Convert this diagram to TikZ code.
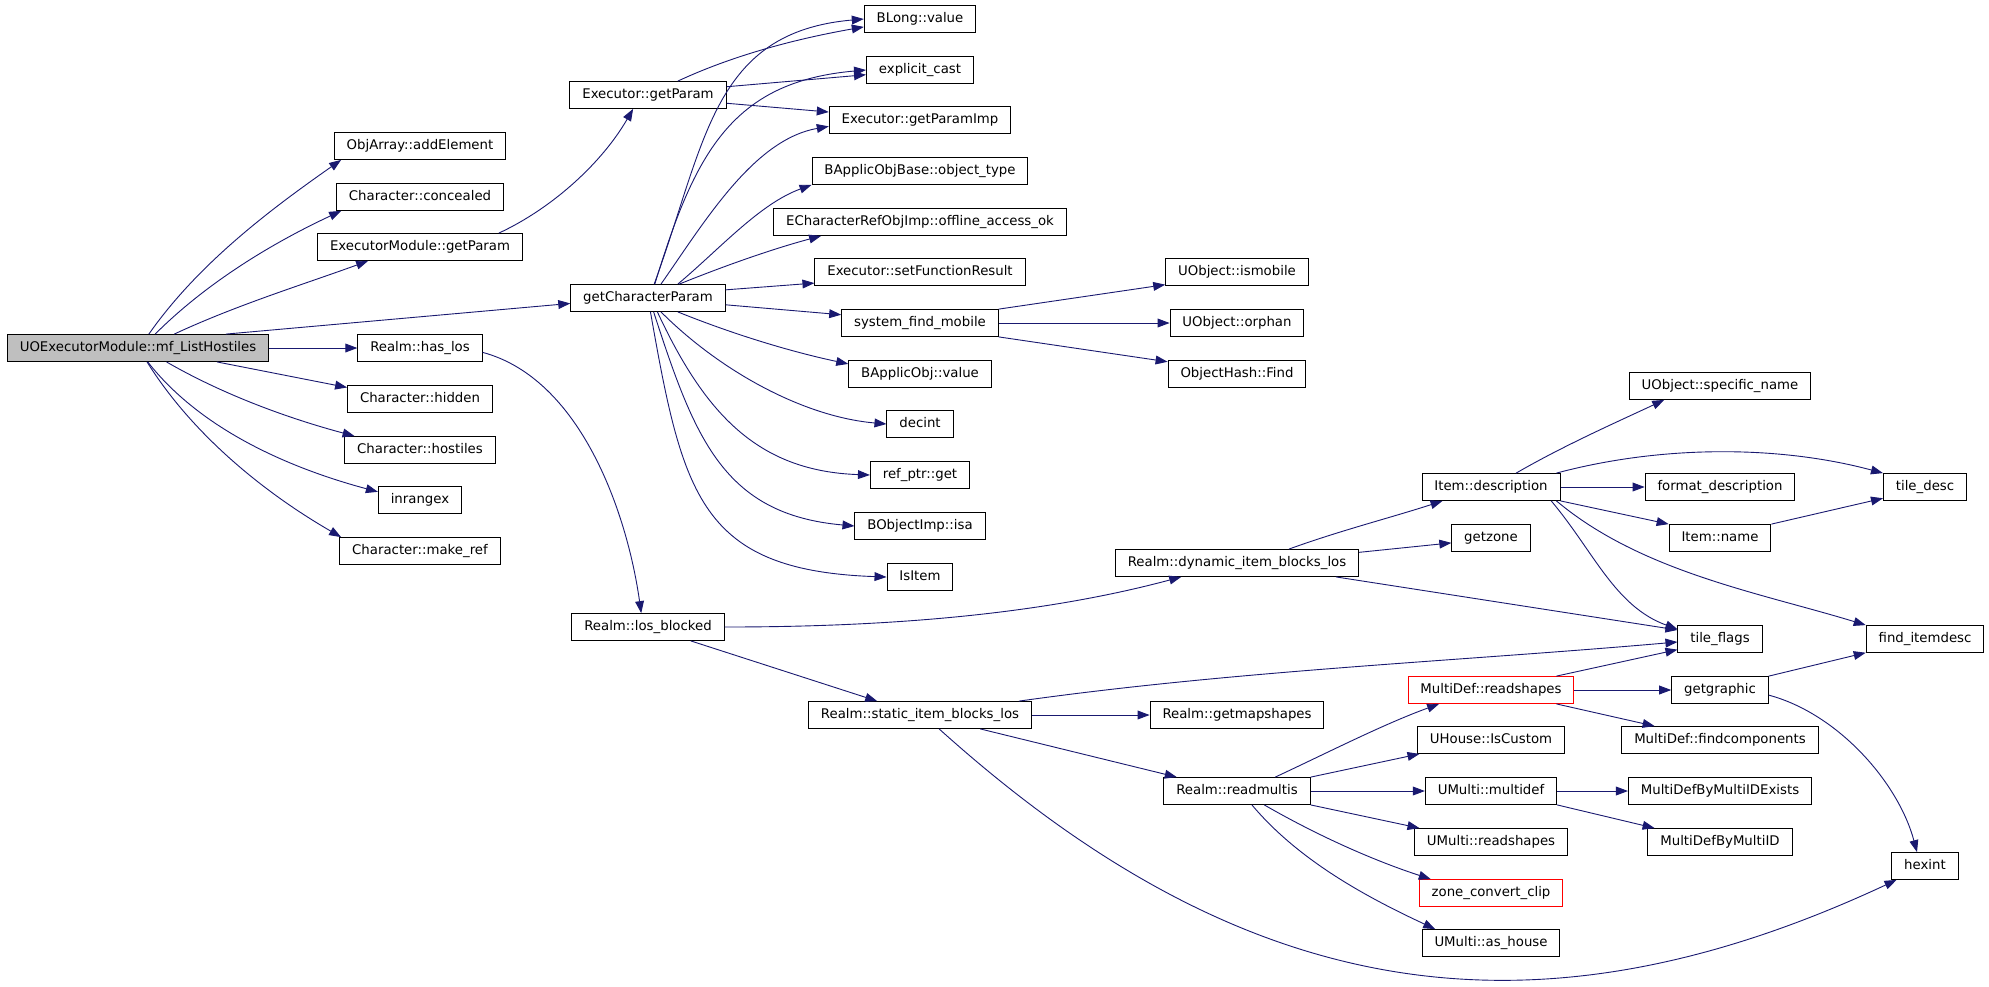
\documentclass[tikz,border=0pt]{standalone}
\usepackage{fontspec}
\setmainfont{DejaVu Sans}
\usepackage{tikz}
\usetikzlibrary{arrows.meta}

\definecolor{callblue}{HTML}{191970}
\definecolor{rootgray}{HTML}{BFBFBF}

\begin{document}
\begin{tikzpicture}[x=0.5pt,y=0.5pt,
	fn/.style={draw=black,line width=0.5pt,fill=white,minimum height=13.4pt,
		inner xsep=6.2pt,inner ysep=0pt,text height=5.1pt,text depth=1.5pt,
		font=\fontsize{6.65}{7}\selectfont},
	root/.style={fn,fill=rootgray},
	trunc/.style={fn,draw=red},
	call/.style={draw=callblue,line width=0.45pt,looseness=0.85,-{Triangle[length=6pt,width=4.4pt]}}]

% fix page to the graph size
\path[use as bounding box,fill=white] (0,0) rectangle (1989,-986);

% column positions (px)
\pgfmathsetmacro{\xa}{138}
\pgfmathsetmacro{\xb}{420}
\pgfmathsetmacro{\xc}{648}
\pgfmathsetmacro{\xd}{920}
\pgfmathsetmacro{\xe}{1237}
\pgfmathsetmacro{\xf}{1491}
\pgfmathsetmacro{\xg}{1720}
\pgfmathsetmacro{\xh}{1925}

% caller
\node[root] (main) at (\xa,-348) {UOExecutorModule::mf\_ListHostiles};

% first level
\node[fn] (addel) at (\xb,-146) {ObjArray::addElement};
\node[fn] (conc) at (\xb,-197) {Character::concealed};
\node[fn] (emgp) at (\xb,-247) {ExecutorModule::getParam};
\node[fn] (haslos) at (\xb,-348) {Realm::has\_los};
\node[fn] (hidden) at (\xb,-399) {Character::hidden};
\node[fn] (hostiles) at (\xb,-450) {Character::hostiles};
\node[fn] (inrange) at (\xb,-500) {inrangex};
\node[fn] (makeref) at (\xb,-551) {Character::make\_ref};

% second level
\node[fn] (exgp) at (\xc,-95) {Executor::getParam};
\node[fn] (gcp) at (\xc,-298) {getCharacterParam};
\node[fn] (losb) at (\xc,-627) {Realm::los\_blocked};

% third level
\node[fn] (blong) at (\xd,-19) {BLong::value};
\node[fn] (ecast) at (\xd,-70) {explicit\_cast};
\node[fn] (gpimp) at (\xd,-120) {Executor::getParamImp};
\node[fn] (otype) at (\xd,-171) {BApplicObjBase::object\_type};
\node[fn] (offl) at (\xd,-222) {ECharacterRefObjImp::offline\_access\_ok};
\node[fn] (setfr) at (\xd,-272) {Executor::setFunctionResult};
\node[fn] (sfm) at (\xd,-323) {system\_find\_mobile};
\node[fn] (bval) at (\xd,-374) {BApplicObj::value};
\node[fn] (decint) at (\xd,-424) {decint};
\node[fn] (refget) at (\xd,-475) {ref\_ptr::get};
\node[fn] (isa) at (\xd,-526) {BObjectImp::isa};
\node[fn] (isitem) at (\xd,-577) {IsItem};
\node[fn] (sibl) at (\xd,-715) {Realm::static\_item\_blocks\_los};

% fourth level
\node[fn] (ismob) at (\xe,-272) {UObject::ismobile};
\node[fn] (orphan) at (\xe,-323) {UObject::orphan};
\node[fn] (find) at (\xe,-374) {ObjectHash::Find};
\node[fn] (dibl) at (\xe,-563) {Realm::dynamic\_item\_blocks\_los};
\node[fn] (gms) at (\xe,-715) {Realm::getmapshapes};
\node[fn] (rmult) at (\xe,-791) {Realm::readmultis};

% fifth level
\node[fn] (idesc) at (\xf,-487) {Item::description};
\node[fn] (getzone) at (\xf,-538) {getzone};
\node[trunc] (mdrs) at (\xf,-690) {MultiDef::readshapes};
\node[fn] (iscust) at (\xf,-740) {UHouse::IsCustom};
\node[fn] (mdef) at (\xf,-791) {UMulti::multidef};
\node[fn] (umrs) at (\xf,-842) {UMulti::readshapes};
\node[trunc] (zcc) at (\xf,-893) {zone\_convert\_clip};
\node[fn] (ashouse) at (\xf,-943) {UMulti::as\_house};

% sixth level
\node[fn] (specn) at (\xg,-386) {UObject::specific\_name};
\node[fn] (fdesc) at (\xg,-487) {format\_description};
\node[fn] (iname) at (\xg,-538) {Item::name};
\node[fn] (tflags) at (\xg,-639) {tile\_flags};
\node[fn] (ggr) at (\xg,-690) {getgraphic};
\node[fn] (findc) at (\xg,-740) {MultiDef::findcomponents};
\node[fn] (mdbe) at (\xg,-791) {MultiDefByMultiIDExists};
\node[fn] (mdbi) at (\xg,-842) {MultiDefByMultiID};

% last level
\node[fn] (tdesc) at (\xh,-487) {tile\_desc};
\node[fn] (fitem) at (\xh,-639) {find\_itemdesc};
\node[fn] (hexint) at (\xh,-866) {hexint};

% calls from the root
\draw[call] (main.52) to[out=55,in=215] (addel.190);
\draw[call] (main.39) to[out=45,in=205] (conc.190);
\draw[call] (main.21) to[out=25,in=200] (emgp.195);
\draw[call] (main.9) -- (gcp.184);
\draw[call] (main) -- (haslos);
\draw[call] (main.-10) -- (hidden.171);
\draw[call] (main.-26) to[out=-30,in=165] (hostiles.168);
\draw[call] (main.-55) to[out=-52,in=165] (inrange.169);
\draw[call] (main.-57) to[out=-58,in=150] (makeref.170);

% ExecutorModule::getParam, Realm::has_los
\draw[call] (emgp.10) to[out=25,in=240] (exgp.-137);
\draw[call] (haslos.-4) to[out=-15,in=98] (losb.116);

% Executor::getParam
\draw[call] (exgp.25) to[out=25,in=190] (blong.188);
\draw[call] (exgp.6) -- (ecast.185);
\draw[call] (exgp.-6) -- (gpimp.175);

% getCharacterParam
\draw[call] (gcp.66) to[out=70,in=185,looseness=1.15] (blong.180);
\draw[call] (gcp.64) to[out=73,in=185,looseness=1.15] (ecast.180);
\draw[call] (gcp.47) to[out=55,in=190] (gpimp.184);
\draw[call] (gcp.25) to[out=40,in=200] (otype.south west);
\draw[call] (gcp.24) to[out=22,in=195] (offl.188);
\draw[call] (gcp.6) -- (setfr.186);
\draw[call] (gcp.-5) -- (sfm.174);
\draw[call] (gcp.-25) to[out=-22,in=168] (bval.172);
\draw[call] (gcp.-47) to[out=-45,in=175] (decint.west);
\draw[call] (gcp.-56) to[out=-65,in=178,looseness=1.07] (refget.west);
\draw[call] (gcp.-68) to[out=-72,in=175,looseness=1.15] (isa.west);
\draw[call] (gcp.-80) to[out=-80,in=178,looseness=1.34] (isitem.west);

% system_find_mobile
\draw[call] (sfm.north east) -- (ismob.190);
\draw[call] (sfm) -- (orphan);
\draw[call] (sfm.south east) -- (find.170);

% Realm::los_blocked
\draw[call] (losb.east) to[out=0,in=195] (dibl.194);
\draw[call] (losb.-18) -- (sibl.162);

% Realm::dynamic_item_blocks_los
\draw[call] (dibl.15) to[out=20,in=198] (idesc.196);
\draw[call] (dibl.5) -- (getzone.187);
\draw[call] (dibl.-8) -- (tflags.168);

% Realm::static_item_blocks_los
\draw[call] (sibl.8) to[out=8,in=185] (tflags.184);
\draw[call] (sibl) -- (gms);
\draw[call] (sibl.-13) -- (rmult.167);
\draw[call] (sibl.-36) to[out=-42,in=205,looseness=1.07] (hexint.206);

% Item::description
\draw[call] (idesc.29) to[out=30,in=205] (specn.194);
\draw[call] (idesc.12) to[out=15,in=165] (tdesc.north west);
\draw[call] (idesc) -- (fdesc);
\draw[call] (idesc.south east) -- (iname.north west);
\draw[call] (idesc.-13) to[out=-50,in=160,looseness=0.95] (tflags.167);
\draw[call] (idesc.-12) to[out=-40,in=163] (fitem.north west);
\draw[call] (iname.north east) -- (tdesc.195);

% MultiDef::readshapes, getgraphic
\draw[call] (mdrs.12) -- (tflags.194);
\draw[call] (mdrs) -- (ggr);
\draw[call] (mdrs.-12) -- (findc.168);
\draw[call] (ggr.north east) -- (fitem.193);
\draw[call] (ggr.-6) to[out=-15,in=105] (hexint.120);

% Realm::readmultis
\draw[call] (rmult.20) to[out=25,in=200] (mdrs.195);
\draw[call] (rmult.north east) -- (iscust.191);
\draw[call] (rmult) -- (mdef);
\draw[call] (rmult.south east) -- (umrs.169);
\draw[call] (rmult.-27) to[out=-30,in=162] (zcc.167);
\draw[call] (rmult.-43) to[out=-50,in=155] (ashouse.166);

% UMulti::multidef
\draw[call] (mdef) -- (mdbe);
\draw[call] (mdef.south east) -- (mdbi.168);

\end{tikzpicture}
\end{document}
